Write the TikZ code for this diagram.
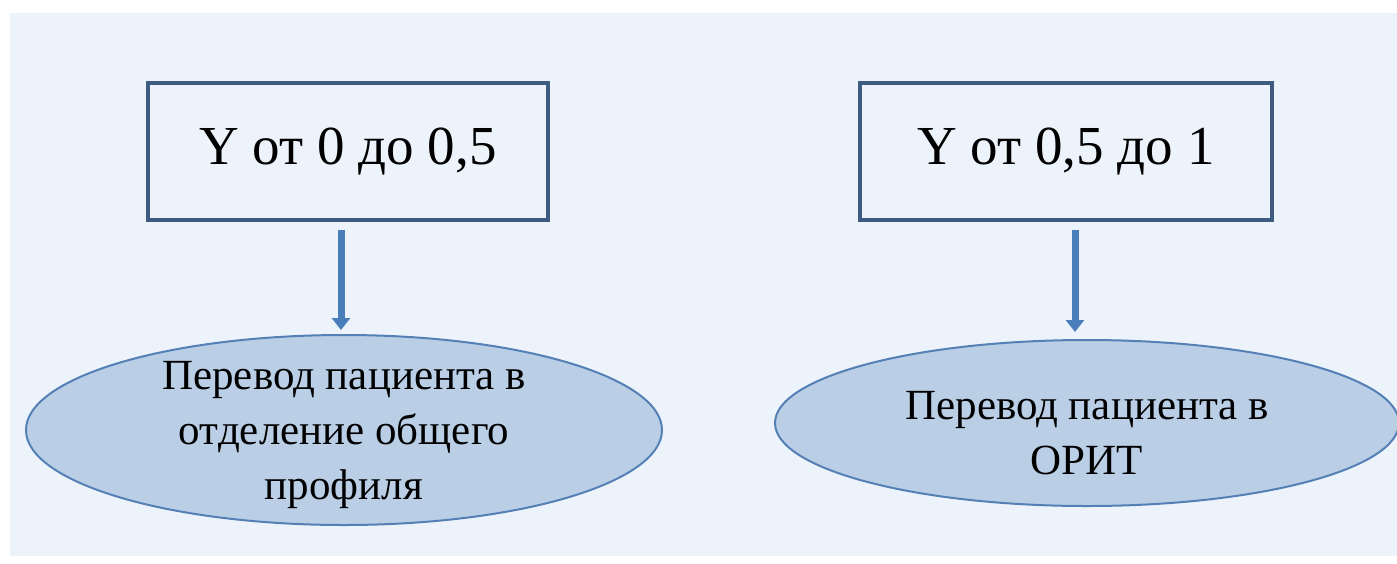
\documentclass[tikz,border=0pt]{standalone}
\usepackage{fontspec}
\setmainfont{Liberation Serif}
\usetikzlibrary{shapes.geometric,arrows.meta}
\definecolor{pagebg}{HTML}{EDF3FA}
\definecolor{boxline}{HTML}{3E5C82}
\definecolor{arrowblue}{HTML}{4A7EBB}
\definecolor{ellfill}{HTML}{BACFE6}
\definecolor{ellline}{HTML}{5580B5}
\tikzset{
  rangebox/.style={draw=boxline, line width=3.4pt, fill=pagebg, minimum width=400pt, minimum height=137pt, font=\fontsize{55}{60}\selectfont},
  outcome/.style={ellipse, draw=ellline, line width=2pt, fill=ellfill, inner sep=0pt},
  outtext/.style={align=center, inner sep=0pt, font=\fontsize{43}{55}\selectfont},
  flow/.style={draw=arrowblue, line width=7pt, -{Triangle[width=18pt,length=12pt]}}
}
\begin{document}
\begin{tikzpicture}[x=1pt,y=-1pt]
\useasboundingbox (0,0) rectangle (1397,563);
\fill[white] (0,0) rectangle (1397,563);
\fill[pagebg] (10,13) rectangle (1397,556);
\begin{scope}
\clip (10,13) rectangle (1397,556);
% threshold boxes
\node[rangebox] (lbox) at (348,151.5) {Y от 0 до 0,5};
\node[rangebox, minimum width=412pt] (rbox) at (1066,151.5) {Y от 0,5 до 1};
% outcomes
\node[outcome, minimum width=636pt, minimum height=190pt] (lell) at (344,430) {};
\node[outcome, minimum width=624pt, minimum height=166pt] (rell) at (1087,423) {};
\node[outtext] (ltext) at ([yshift=-5pt]lell.center) {Перевод пациента в\\отделение общего\\профиля};
\node[outtext] (rtext) at ([yshift=-10pt]rell.center) {Перевод пациента в\\ОРИТ};
% arrows
\draw[flow] ([xshift=-3pt,yshift=-8pt]lell.north |- lbox.south) -- ([xshift=-3pt,yshift=4pt]lell.north);
\draw[flow] ([xshift=-12pt,yshift=-8pt]rell.north |- rbox.south) -- ([xshift=-12pt,yshift=7pt]rell.north);
\end{scope}
\end{tikzpicture}
\end{document}
